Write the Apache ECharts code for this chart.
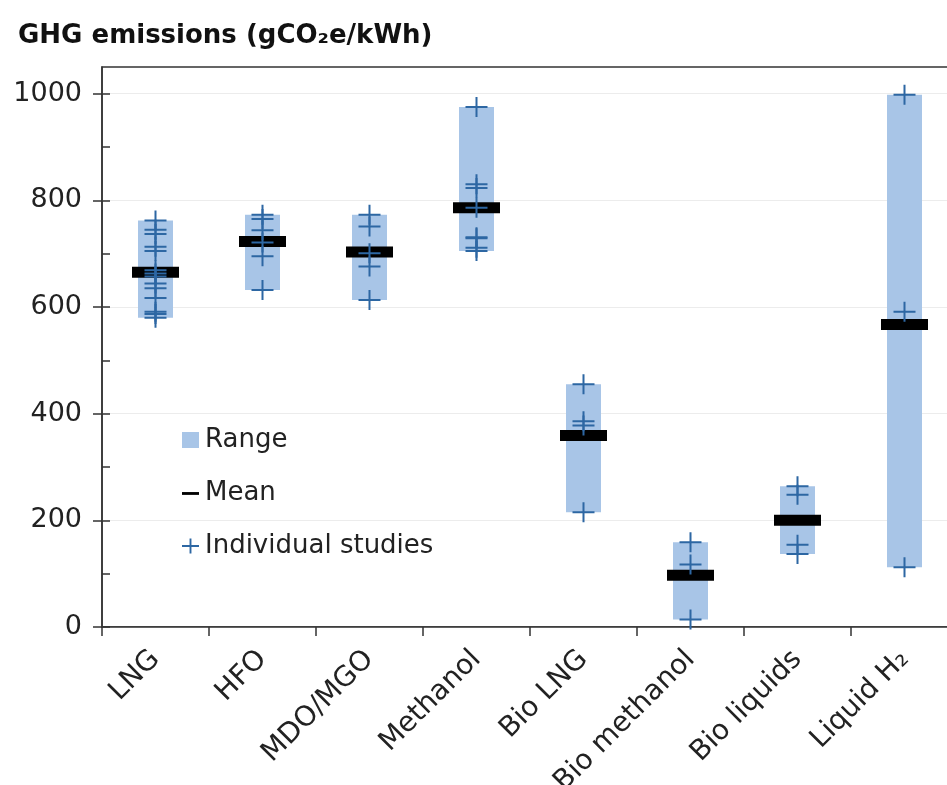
<!DOCTYPE html>
<html>
<head>
<meta charset="utf-8">
<script src="https://cdn.jsdelivr.net/npm/echarts@6/dist/echarts.min.js"></script>
<style>
  html, body { margin: 0; padding: 0; background: #fff; }
  #chart { width: 947px; height: 785px; }
</style>
</head>
<body>
<div id="chart"></div>
<script>
// Fuel categories along the x axis
const categories = ['LNG', 'HFO', 'MDO/MGO', 'Methanol', 'Bio LNG', 'Bio methanol', 'Bio liquids', 'Liquid H₂'];

// Lower and upper end of the reported range (gCO2e/kWh)
const rangeLow  = [580, 632, 613, 705, 215, 14, 137, 112];
const rangeHigh = [762, 773, 773, 975, 455, 159, 264, 998];

// Mean of the studies per fuel
const means = [665, 723, 703, 786, 359, 97, 200, 567];

// Individual study results per fuel
const studiesLNG         = [762, 745, 737, 713, 705, 669, 663, 657, 644, 635, 617, 591, 587, 580];
const studiesHFO         = [773, 765, 744, 721, 695, 632];
const studiesMDO         = [773, 751, 701, 676, 613];
const studiesMethanol    = [975, 830, 823, 786, 731, 729, 711, 705];
const studiesBioLNG      = [455, 386, 378, 215];
const studiesBioMethanol = [159, 117, 14];
const studiesBioLiquids  = [264, 248, 154, 137];
const studiesLiquidH2    = [998, 591, 112];

// Y axis tick values
const yTicks = [0, 200, 400, 600, 800, 1000];
const yMinorTicks = [0, 100, 200, 300, 400, 500, 600, 700, 800, 900, 1000];

const studies = [studiesLNG, studiesHFO, studiesMDO, studiesMethanol,
                 studiesBioLNG, studiesBioMethanol, studiesBioLiquids, studiesLiquidH2];

const FONT = 'DejaVu Sans';
const TEXT = '#222';
const AXIS = '#333';

const rangeSpan = rangeHigh.map((v, i) => v - rangeLow[i]);
const meanPoints = means.map((v, i) => [i, v]);
const studyPoints = [];
studies.forEach((vals, i) => vals.forEach(v => studyPoints.push([i, v])));

const plusSymbol = 'path://M0,9L22,9L22,11L0,11Z M10,0L12,0L12,20L10,20Z';

const chart = echarts.init(document.getElementById('chart'), null, { renderer: 'canvas' });

chart.setOption({
  animation: false,
  title: {
    text: 'GHG emissions (gCO₂e/kWh)',
    left: 13,
    top: 18,
    textStyle: { fontFamily: FONT, fontWeight: 'bold', fontSize: 26, color: '#111' }
  },
  grid: {
    left: 102, top: 67, right: -11, bottom: 158,
    show: true, borderColor: AXIS, borderWidth: 1.5,
    containLabel: false, outerBoundsMode: 'none'
  },
  legend: {
    orient: 'vertical',
    left: 177,
    top: 422,
    itemWidth: 17,
    itemHeight: 16,
    itemGap: 27,
    selectedMode: false,
    textStyle: { fontFamily: FONT, fontSize: 26, color: TEXT, padding: [0, 0, 0, 1] },
    data: [
      { name: 'Range', icon: 'rect' },
      { name: 'Mean', icon: 'path://M0,0M18,16M0,7L18,7L18,10L0,10Z' },
      { name: 'Individual studies', icon: 'path://M0,7L18,7L18,9L0,9Z M8,0L10,0L10,16L8,16Z' }
    ]
  },
  xAxis: {
    type: 'category',
    data: categories,
    boundaryGap: true,
    axisLine: { lineStyle: { color: AXIS, width: 1.5 } },
    axisTick: { show: true, length: 9, lineStyle: { color: AXIS, width: 1.5 } },
    axisLabel: { interval: 0, rotate: 45, margin: 28, fontFamily: FONT, fontSize: 28, color: TEXT },
    splitLine: { show: false }
  },
  yAxis: [
    {
      type: 'value', min: 0, max: 1050, interval: 200,
      axisLine: { show: true, lineStyle: { color: AXIS, width: 1.5 } },
      axisTick: { show: true, length: 9, customValues: yTicks, lineStyle: { color: AXIS, width: 1.5 } },
      axisLabel: {
        customValues: yTicks, margin: 20, fontFamily: FONT, fontSize: 27, color: TEXT,
        formatter: v => String(v)
      },
      splitLine: { show: true, lineStyle: { color: '#ececec', width: 1 } }
    },
    {
      type: 'value', min: 0, max: 1050, interval: 100, position: 'left',
      axisLine: { show: false },
      axisTick: { show: true, inside: true, length: 8, customValues: yMinorTicks, lineStyle: { color: AXIS, width: 1.5 } },
      axisLabel: { show: false },
      splitLine: { show: false }
    }
  ],
  series: [
    {
      name: 'base', type: 'bar', stack: 'range', barWidth: 35, silent: true,
      itemStyle: { color: 'transparent' },
      data: rangeLow
    },
    {
      name: 'Range', type: 'bar', stack: 'range', barWidth: 35,
      itemStyle: { color: '#a8c5e7' },
      data: rangeSpan
    },
    {
      name: 'Mean', type: 'scatter', symbol: 'rect', symbolSize: [47, 11], z: 3,
      itemStyle: { color: '#000', opacity: 1 },
      data: meanPoints
    },
    {
      name: 'Individual studies', type: 'scatter', symbol: plusSymbol, symbolSize: [22, 20], z: 4,
      itemStyle: { color: '#2d67a3', opacity: 1 },
      data: studyPoints
    }
  ]
});
</script>
</body>
</html>
